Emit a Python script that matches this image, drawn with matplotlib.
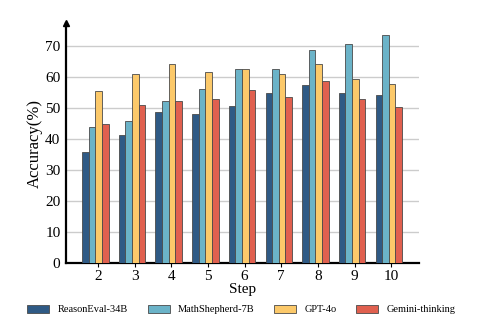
import matplotlib
matplotlib.use("Agg")
import matplotlib.pyplot as plt
import numpy as np

steps = [2, 3, 4, 5, 6, 7, 8, 9, 10]
series_names = ["ReasonEval-34B", "MathShepherd-7B", "GPT-4o", "Gemini-thinking"]
reason_eval = [35.9, 41.3, 48.8, 47.9, 50.7, 54.8, 57.3, 54.6, 54.1]
math_shepherd = [43.9, 45.8, 52.2, 56.1, 62.5, 62.4, 68.5, 70.6, 73.5]
gpt_4o = [55.3, 60.9, 64.2, 61.6, 62.4, 60.9, 64.1, 59.4, 57.8]
gemini_thinking = [44.8, 50.9, 52.2, 52.9, 55.7, 53.6, 58.6, 52.7, 50.3]
colors = ["#2f5a85", "#6bb3c8", "#fcc96a", "#e0604f"]

plt.rcParams["font.family"] = ["Liberation Serif", "DejaVu Serif"]

fig = plt.figure(figsize=(4.87, 3.32), dpi=100)
ax = fig.add_axes([0.1355, 0.207, 0.7245, 0.724])

x = np.arange(len(steps))
width = 0.18
all_series = [reason_eval, math_shepherd, gpt_4o, gemini_thinking]
for i, (vals, name, c) in enumerate(zip(all_series, series_names, colors)):
    ax.bar(x + (i - 1.5) * width, vals, width, color=c, edgecolor="#4a4a4a",
           linewidth=0.6, label=name, zorder=3)

ax.set_xlim(-0.8, 8.82)
ax.set_ylim(0, 77.3)
ax.set_yticks(range(0, 71, 10))
ax.set_xticks(x + 0.07)
ax.set_xticklabels([str(s) for s in steps])
ax.tick_params(axis="both", labelsize=11, length=3, width=0.8, colors="black")
ax.tick_params(axis="x", pad=2)
ax.tick_params(axis="y", length=0, pad=4)
ax.yaxis.grid(True, color="#cccccc", linewidth=1.0, zorder=0)
ax.set_axisbelow(True)

for s in ["top", "right"]:
    ax.spines[s].set_visible(False)
ax.spines["left"].set_linewidth(1.6)
ax.spines["bottom"].set_linewidth(1.6)

# arrow head on the top of the y axis
ax.plot(0, 1, "^k", markersize=5, transform=ax.transAxes, clip_on=False, zorder=5)

ax.set_ylabel("Accuracy(%)", fontsize=12, labelpad=2)
ax.set_xlabel("Step", fontsize=11, labelpad=0)

fig.legend(loc="center", bbox_to_anchor=(0.496, 0.067), ncol=4, frameon=False,
           fontsize=7.5, handlelength=2.1, handleheight=0.75, columnspacing=1.9,
           handletextpad=0.8)

fig.savefig("out.png", dpi=100)
